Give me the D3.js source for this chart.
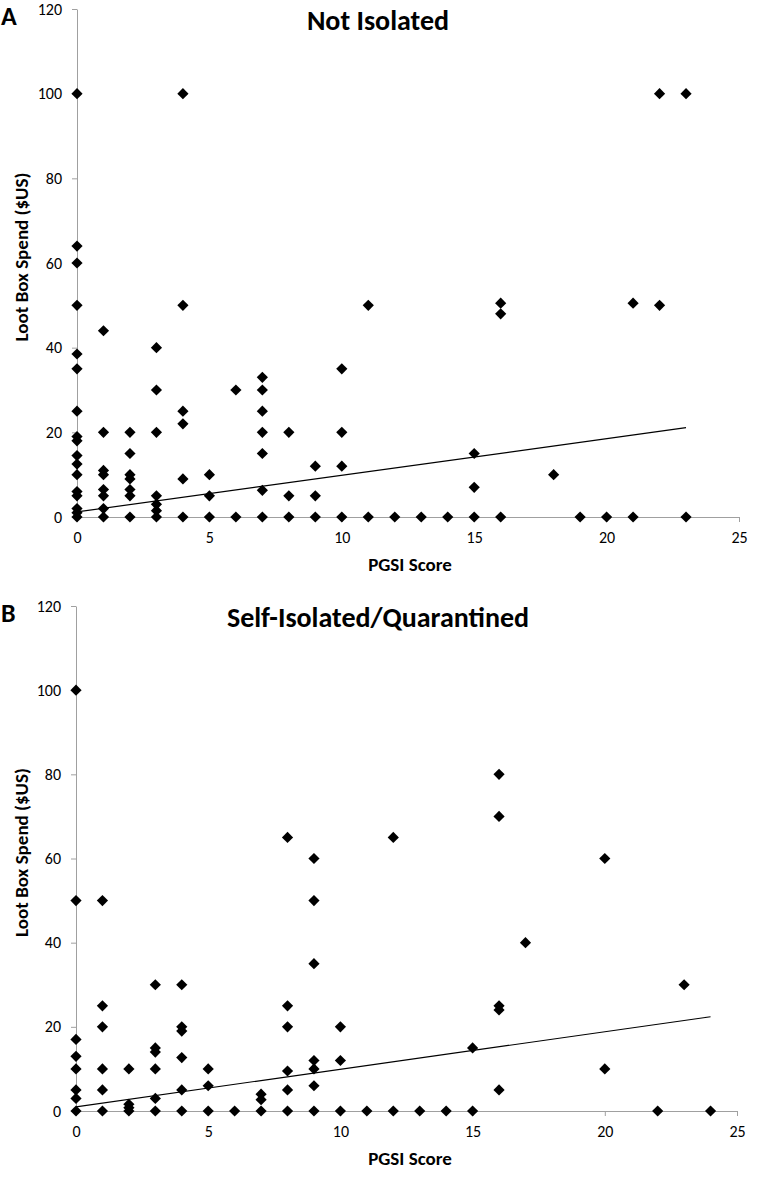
<!DOCTYPE html>
<html>
<head>
<meta charset="utf-8">
<script src="https://cdn.jsdelivr.net/npm/d3@7"></script>
<style>
  body { margin: 0; background: #fff; }
  svg text { font-family: Calibri, Carlito, "Open Sans", sans-serif; }
  .tick text { font-size: 16px; fill: #000; }
  .axis path, .axis line { stroke: #a0a0a0; }
  .axis-label { font-size: 19px; font-weight: bold; }
  .title-label { font-size: 28px; font-weight: bold; }
  .panel-label { font-size: 26px; font-weight: bold; }
</style>
</head>
<body>
<svg width="766" height="1179"></svg>
<script>
// Panel A: Not Isolated  (PGSI score, loot box spend $US)
const notIsolatedX = [
  0,0,0,0,0,0,0,0,0,0,0,0,0,0,0,0,0,
  1,1,1,1,1,1,1,1,
  2,2,2,2,2,2,2,
  3,3,3,3,3,3,3,
  4,4,4,4,4,4,
  5,5,5,
  6,6,
  7,7,7,7,7,7,7,
  8,8,8,
  9,9,9,
  10,10,10,10,
  11,11,
  12,13,14,
  15,15,15,
  16,16,16,
  18,19,20,
  21,21,
  22,22,
  23,23
];
const notIsolatedY = [
  0,1,2,5,6,10,12.5,14.5,18,19,25,35,38.5,50,60,64,100,
  0,2,5,6.5,10,11,20,44,
  0,5,6.5,9,10,15,20,
  0,1.5,3,5,20,30,40,
  0,9,22,25,50,100,
  0,5,10,
  0,30,
  0,6.3,15,20,25,30,33,
  0,5,20,
  0,5,12,
  0,12,20,35,
  0,50,
  0,0,0,
  0,7,15,
  0,48,50.5,
  10,0,0,
  0,50.5,
  50,100,
  0,100
];
const notIsolatedTrend = [[0, 1.2], [23, 21.1]];

// Panel B: Self-Isolated/Quarantined
const isolatedX = [
  0,0,0,0,0,0,0,0,
  1,1,1,1,1,1,
  2,2,2,2,
  3,3,3,3,3,3,
  4,4,4,4,4,4,
  5,5,5,
  6,
  7,7,7,
  8,8,8,8,8,8,
  9,9,9,9,9,9,9,
  10,10,10,
  11,
  12,12,
  13,14,
  15,15,
  16,16,16,16,16,
  17,
  20,20,
  22,23,24
];
const isolatedY = [
  0,3,5,10,13,17,50,100,
  0,5,10,20,25,50,
  0,0.8,1.6,10,
  0,3,10,14,15,30,
  0,5,12.7,19,20,30,
  0,6,10,
  0,
  0,2.7,4,
  0,5,9.5,20,25,65,
  0,6,10,12,35,50,60,
  0,12,20,
  0,
  0,65,
  0,0,
  0,15,
  5,24,25,70,80,
  40,
  10,60,
  0,30,0
];
const isolatedTrend = [[0, 1.0], [24, 22.4]];

const xTicks = [0, 5, 10, 15, 20, 25];
const yTicks = [0, 20, 40, 60, 80, 100, 120];

const svg = d3.select("svg");

const panels = [
  { letter: "A", title: "Not Isolated", xs: notIsolatedX, ys: notIsolatedY, trend: notIsolatedTrend,
    left: 77, right: 739, top: 9, bottom: 517 },
  { letter: "B", title: "Self-Isolated/Quarantined", xs: isolatedX, ys: isolatedY, trend: isolatedTrend,
    left: 76, right: 737, top: 606, bottom: 1111 }
];

const diamond = "M0,-5.6L5.6,0L0,5.6L-5.6,0Z";

panels.forEach(p => {
  const xScale = d3.scaleLinear().domain([0, 25]).range([p.left, p.right]);
  const yScale = d3.scaleLinear().domain([0, 120]).range([p.bottom, p.top]);

  const g = svg.append("g");

  g.append("g")
    .attr("class", "axis")
    .attr("transform", `translate(0,${p.bottom})`)
    .call(d3.axisBottom(xScale).tickValues(xTicks).tickSize(5).tickSizeOuter(0).tickPadding(10));

  g.append("g")
    .attr("class", "axis")
    .attr("transform", `translate(${p.left},0)`)
    .call(d3.axisLeft(yScale).tickValues(yTicks).tickSize(5).tickSizeOuter(0).tickPadding(10));

  g.append("line")
    .attr("x1", xScale(p.trend[0][0]))
    .attr("y1", yScale(p.trend[0][1]))
    .attr("x2", xScale(p.trend[1][0]))
    .attr("y2", yScale(p.trend[1][1]))
    .attr("stroke", "#000")
    .attr("stroke-width", 1.2);

  g.selectAll(".pt")
    .data(p.xs.map((x, i) => [x, p.ys[i]]))
    .enter()
    .append("path")
    .attr("class", "pt")
    .attr("d", diamond)
    .attr("transform", d => `translate(${xScale(d[0])},${yScale(d[1])})`)
    .attr("fill", "#000");

  g.append("text")
    .attr("class", "axis-label")
    .attr("x", 410)
    .attr("y", p.bottom + 54)
    .attr("text-anchor", "middle")
    .text("PGSI Score");

  g.append("text")
    .attr("class", "axis-label")
    .attr("transform", `translate(28,${(p.top + p.bottom) / 2 - 6}) rotate(-90)`)
    .attr("text-anchor", "middle")
    .text("Loot Box Spend ($US)");

  g.append("text")
    .attr("class", "title-label")
    .attr("x", 378)
    .attr("y", p.top + 21)
    .attr("text-anchor", "middle")
    .text(p.title);

  g.append("text")
    .attr("class", "panel-label")
    .attr("x", 1)
    .attr("y", p.top + 16)
    .text(p.letter);
});
</script>
</body>
</html>
